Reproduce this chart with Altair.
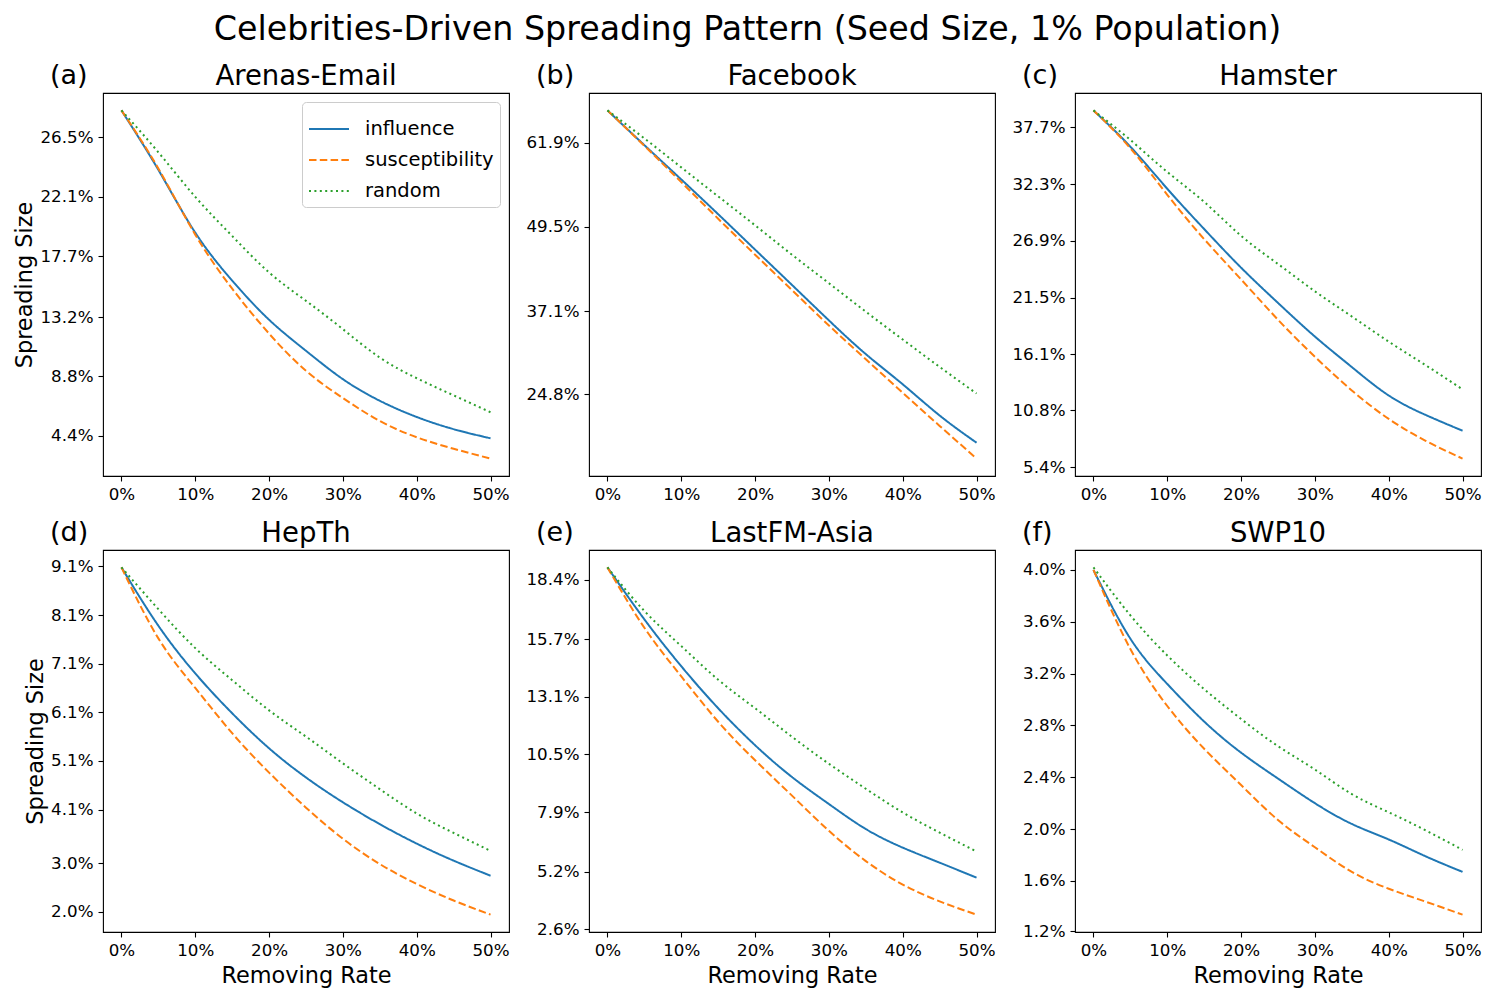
import altair as alt
import pandas as pd

FONT = "DejaVu Sans"

rates = [0, 5, 10, 15, 20, 25, 30, 35, 40, 45, 50]
strategies = ["influence", "susceptibility", "random"]
colors = ["#1f77b4", "#ff7f0e", "#2ca02c"]

panel_names = ["Arenas-Email", "Facebook", "Hamster", "HepTh", "LastFM-Asia", "SWP10"]
panel_letters = ["(a)", "(b)", "(c)", "(d)", "(e)", "(f)"]

arenas_influence = [28.5, 24.1, 19.45, 15.9, 13.0, 10.7, 8.6, 7.0, 5.8, 4.9, 4.22]
arenas_susceptibility = [28.5, 24.2, 19.3, 15.3, 11.97, 9.22, 7.2, 5.5, 4.3, 3.45, 2.72]
arenas_random = [28.5, 25.4, 22.1, 19.2, 16.5, 14.4, 12.3, 10.2, 8.67, 7.4, 6.15]

facebook_influence = [66.67, 61.55, 56.49, 51.37, 46.15, 40.94, 35.72, 30.75, 26.3, 21.7, 17.69]
facebook_susceptibility = [66.67, 61.45, 56.1, 50.7, 45.4, 40.19, 34.97, 30.0, 25.04, 20.17, 15.35]
facebook_random = [66.67, 62.55, 58.27, 54.0, 49.73, 45.4, 41.2, 37.0, 32.9, 28.86, 24.94]

hamster_influence = [39.3, 35.85, 31.85, 28.02, 24.35, 21.0, 17.8, 14.9, 12.2, 10.35, 8.85]
hamster_susceptibility = [39.3, 35.7, 31.28, 27.06, 23.23, 19.4, 15.88, 12.68, 9.97, 7.89, 6.2]
hamster_random = [39.3, 36.49, 33.45, 30.6, 27.38, 24.7, 22.1, 19.71, 17.32, 15.08, 12.78]

hepth_influence = [9.08, 7.88, 6.9, 6.08, 5.36, 4.76, 4.25, 3.8, 3.4, 3.05, 2.74]
hepth_susceptibility = [9.08, 7.62, 6.6, 5.67, 4.86, 4.14, 3.5, 2.98, 2.57, 2.23, 1.94]
hepth_random = [9.08, 8.22, 7.42, 6.76, 6.14, 5.6, 5.05, 4.52, 4.02, 3.62, 3.25]

lastfm_influence = [18.96, 16.61, 14.49, 12.59, 10.92, 9.48, 8.26, 7.13, 6.29, 5.61, 4.93]
lastfm_susceptibility = [18.96, 16.23, 14.03, 11.98, 10.24, 8.64, 7.05, 5.68, 4.62, 3.86, 3.26]
lastfm_random = [18.96, 16.99, 15.4, 13.88, 12.59, 11.3, 10.08, 8.95, 7.88, 6.97, 6.11]

swp10_influence = [4.0, 3.47, 3.12, 2.83, 2.59, 2.39, 2.2, 2.04, 1.92, 1.79, 1.67]
swp10_susceptibility = [4.0, 3.39, 2.95, 2.62, 2.34, 2.07, 1.86, 1.67, 1.54, 1.44, 1.34]
swp10_random = [4.02, 3.65, 3.34, 3.08, 2.85, 2.64, 2.46, 2.27, 2.13, 1.99, 1.84]

ytick_arenas = [4.4, 8.8, 13.2, 17.7, 22.1, 26.5]
ytick_facebook = [24.8, 37.1, 49.5, 61.9]
ytick_hamster = [5.4, 10.8, 16.1, 21.5, 26.9, 32.3, 37.7]
ytick_hepth = [2.0, 3.0, 4.1, 5.1, 6.1, 7.1, 8.1, 9.1]
ytick_lastfm = [2.6, 5.2, 7.9, 10.5, 13.1, 15.7, 18.4]
ytick_swp10 = [1.21, 1.6, 2.0, 2.4, 2.8, 3.2, 3.6, 4.0]
xticks = [0, 10, 20, 30, 40, 50]

series = [
    (arenas_influence, arenas_susceptibility, arenas_random, ytick_arenas),
    (facebook_influence, facebook_susceptibility, facebook_random, ytick_facebook),
    (hamster_influence, hamster_susceptibility, hamster_random, ytick_hamster),
    (hepth_influence, hepth_susceptibility, hepth_random, ytick_hepth),
    (lastfm_influence, lastfm_susceptibility, lastfm_random, ytick_lastfm),
    (swp10_influence, swp10_susceptibility, swp10_random, ytick_swp10),
]

PW = 406


def make_panel(i):
    inf, sus, rnd, yt = series[i]
    rows = []
    for strat, vals in zip(strategies, [inf, sus, rnd]):
        for r, v in zip(rates, vals):
            rows.append({"rate": r, "size": v, "strategy": strat})
    df = pd.DataFrame(rows)
    allv = inf + sus + rnd
    lo, hi = min(allv), max(allv)
    pad = 0.05 * (hi - lo)
    left = i % 3 == 0
    bottom = i >= 3

    legend = None
    if i == 0:
        legend = alt.Legend(
            title=None, orient="top-right", offset=9, fillColor="white",
            strokeColor="#cccccc", cornerRadius=4, padding=6,
            labelFontSize=19.5, labelFont=FONT, labelColor="black",
            symbolType="stroke", symbolSize=1600, symbolStrokeWidth=2,
            rowPadding=-5, labelOffset=15,
        )

    lines = alt.Chart(df).mark_line(strokeWidth=2, interpolate="natural", strokeCap="butt").encode(
        x=alt.X("rate:Q",
                scale=alt.Scale(domain=[-2.5, 52.5], nice=False, zero=False),
                axis=alt.Axis(values=xticks, labelExpr="datum.value + '%'",
                              title="Removing Rate" if bottom else None)),
        y=alt.Y("size:Q",
                scale=alt.Scale(domain=[lo - pad, hi + pad], nice=False, zero=False),
                axis=alt.Axis(values=yt, labelExpr="format(datum.value, '.1f') + '%'",
                              title="Spreading Size" if left else None)),
        color=alt.Color("strategy:N", scale=alt.Scale(domain=strategies, range=colors), legend=legend),
        strokeDash=alt.StrokeDash("strategy:N",
                                  scale=alt.Scale(domain=strategies, range=[[1, 0], [7.5, 3.3], [2, 3.4]]),
                                  legend=legend),
    )
    letter = alt.Chart(pd.DataFrame({"t": [panel_letters[i]]})).mark_text(
        align="left", baseline="alphabetic", fontSize=27, font=FONT, color="black"
    ).encode(x=alt.value(-53), y=alt.value(-9), text="t:N")
    name = alt.Chart(pd.DataFrame({"t": [panel_names[i]]})).mark_text(
        align="center", baseline="alphabetic", fontSize=27.5, font=FONT, color="black"
    ).encode(x=alt.value(PW / 2), y=alt.value(-8), text="t:N")

    return alt.layer(lines, letter, name).resolve_scale(
        color="independent", strokeDash="independent"
    ).properties(width=PW, height=383 if i < 3 else 382)


panels = [make_panel(i) for i in range(6)]

chart = alt.concat(*panels, columns=3, spacing={"row": 74, "column": 80}, bounds="flush").resolve_scale(
    color="independent", strokeDash="independent", x="independent", y="independent"
).properties(
    title=alt.TitleParams("Celebrities-Driven Spreading Pattern (Seed Size, 1% Population)",
                          fontSize=33.3, font=FONT, fontWeight="normal", color="black",
                          anchor="middle", offset=14),
    background="white",
).configure_view(stroke="black", strokeWidth=1.1).configure_axis(
    domain=False, grid=False, tickColor="black", tickSize=5, tickWidth=1.1,
    labelFont=FONT, labelFontSize=16.7, labelColor="black", labelPadding=5,
    titleFont=FONT, titleFontSize=22.4, titleFontWeight="normal", titleColor="black",
).configure_axisY(titlePadding=3).configure_axisX(titlePadding=6)

chart.save("out.html", embed_options={"renderer": "svg", "actions": False})
